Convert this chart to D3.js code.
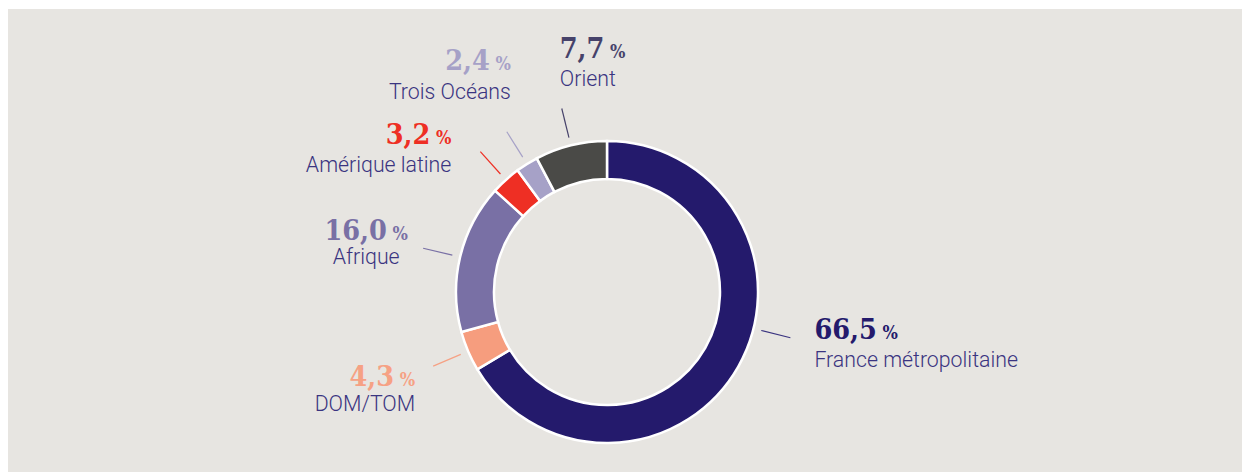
<!DOCTYPE html>
<html>
<head>
<meta charset="utf-8">
<script src="https://cdn.jsdelivr.net/npm/d3@7"></script>
<style>
  html, body { margin: 0; padding: 0; background: #ffffff; }
  svg { display: block; }
</style>
</head>
<body>
<svg id="chart" width="1245" height="472"></svg>
<script>
// ---- data ----
const categories = ["France métropolitaine", "DOM/TOM", "Afrique", "Amérique latine", "Trois Océans", "Orient"];
const values = [66.5, 4.3, 16.0, 3.2, 2.4, 7.7];
const valueLabels = ["66,5", "4,3", "16,0", "3,2", "2,4", "7,7"];

// ---- styles ----
const sliceColors = ["#241a6c", "#f69d7e", "#7970a5", "#ee2f24", "#a6a1c7", "#4a4a47"];
const valueColors = ["#241a6c", "#f6a184", "#7970a5", "#ee2f24", "#a6a1c7", "#46426a"];
const lineColors  = ["#3a3480", "#f6a184", "#7970a5", "#ee2f24", "#a6a1c7", "#46426a"];
const labelColor = "#3a3480";

// label layout: leader-line angle override (deg, null = slice mid), text anchor, offsets from leader end
const layout = [
  {angle: 104, anchor: "start",  dx: 24,  dyV: 1,   dyL: 29},
  {angle: null, anchor: "end",   dx: -18, dyV: 20,  dyL: 45},
  {angle: null, anchor: "middle",dx: -57, dyV: -8,  dyL: 16},
  {angle: null, anchor: "end",   dx: -29, dyV: -8,  dyL: 20},
  {angle: null, anchor: "end",   dx: 4,   dyV: -62, dyL: -33},
  {angle: null, anchor: "start", dx: -2,  dyV: -51, dyL: -23}
];

const W = 1245, H = 472;
const cx = 607, cy = 292;
const outerR = 151, innerR = 113;
const lineR0 = outerR + 8, lineR1 = outerR + 38;

const svg = d3.select("#chart");
svg.append("rect").attr("x", 8).attr("y", 9).attr("width", 1234).attr("height", H - 9).attr("fill", "#e7e5e1");

const data = categories.map((c, i) => ({cat: c, value: values[i], label: valueLabels[i], i}));
const pie = d3.pie().value(d => d.value).sort(null).padAngle(0);
const arcs = pie(data);
const arc = d3.arc().innerRadius(innerR).outerRadius(outerR);

const g = svg.append("g").attr("transform", `translate(${cx},${cy})`);
g.selectAll("path.slice").data(arcs).join("path")
  .attr("class", "slice")
  .attr("d", arc)
  .attr("fill", d => sliceColors[d.data.i])
  .attr("stroke", "#ffffff")
  .attr("stroke-width", 2.5)
  .attr("stroke-linejoin", "miter");

function polar(angleRad, r) {
  return [Math.sin(angleRad) * r, -Math.cos(angleRad) * r];
}

arcs.forEach(a => {
  const i = a.data.i;
  const L = layout[i];
  const ang = L.angle !== null ? L.angle * Math.PI / 180 : (a.startAngle + a.endAngle) / 2;
  const p0 = polar(ang, lineR0), p1 = polar(ang, lineR1);
  g.append("line")
    .attr("x1", p0[0]).attr("y1", p0[1]).attr("x2", p1[0]).attr("y2", p1[1])
    .attr("stroke", lineColors[i]).attr("stroke-width", 1.2);
  const tx = p1[0] + L.dx;
  const vt = g.append("text")
    .attr("x", tx).attr("y", p1[1] + L.dyV)
    .attr("text-anchor", L.anchor)
    .attr("fill", valueColors[i])
    .style("font-family", "'DejaVu Serif Condensed', 'DejaVu Serif', serif")
    .style("font-stretch", "condensed")
    .style("font-weight", "bold");
  vt.append("tspan").style("font-size", "28.5px").text(a.data.label);
  vt.append("tspan").style("font-size", "18px").text("\u00a0%");
  g.append("text")
    .attr("x", tx).attr("y", p1[1] + L.dyL)
    .attr("text-anchor", L.anchor)
    .attr("fill", labelColor)
    .style("font-family", "Roboto, sans-serif")
    .style("font-weight", 300)
    .style("font-size", "21.3px")
    .text(a.data.cat);
});
</script>
</body>
</html>
